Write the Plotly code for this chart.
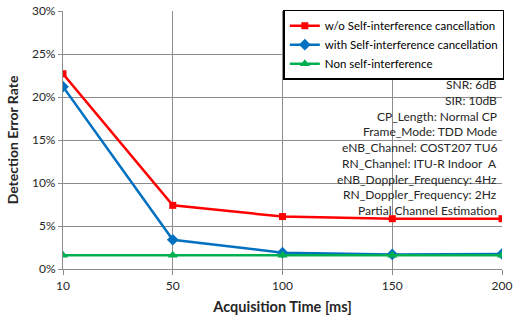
import plotly.graph_objects as go

categories = ["10", "50", "100", "150", "200"]
wo_sic = [0.227, 0.074, 0.061, 0.0585, 0.0585]
with_sic = [0.212, 0.034, 0.019, 0.017, 0.0175]
non_si = [0.016, 0.016, 0.016, 0.016, 0.016]
y_ticks = [0, 0.05, 0.10, 0.15, 0.20, 0.25, 0.30]
y_tick_labels = ["0%", "5%", "10%", "15%", "20%", "25%", "30%"]
params = [
    "SNR: 6dB",
    "SIR: 10dB",
    "CP_Length: Normal CP",
    "Frame_Mode: TDD Mode",
    "eNB_Channel: COST207 TU6",
    "RN_Channel: ITU-R Indoor  A",
    "eNB_Doppler_Frequency: 4Hz",
    "RN_Doppler_Frequency: 2Hz",
    "Partial Channel Estimation",
]

FONT = "Lato"
grid = "#8c8c8c"
txt = "#262626"

fig = go.Figure()
fig.add_trace(go.Scatter(x=categories, y=wo_sic, mode="lines+markers",
                         name="w/o Self-interference cancellation", legendgroup="a",
                         line=dict(color="#ff0000", width=2.5),
                         marker=dict(symbol="square", size=7, color="#ff0000")))
fig.add_trace(go.Scatter(x=categories, y=with_sic, mode="lines+markers",
                         name="with Self-interference cancellation", legendgroup="b",
                         line=dict(color="#0070c0", width=2.5),
                         marker=dict(symbol="diamond", size=9, color="#0070c0")))
fig.add_trace(go.Scatter(x=categories, y=non_si, mode="lines+markers",
                         name="Non self-interference", legendgroup="c",
                         line=dict(color="#00b050", width=2.5),
                         marker=dict(symbol="triangle-up", size=9, color="#00b050")))

top_px = 84.5
step_px = 15.75
plot_top, plot_h, plot_l, plot_w = 11, 258, 63, 440
for i, t in enumerate(params):
    ypix = top_px + i * step_px
    fig.add_annotation(text=t, xref="paper", yref="paper",
                       x=(500 - plot_l) / plot_w, y=1 - (ypix - plot_top) / plot_h,
                       xanchor="right", yanchor="middle", showarrow=False,
                       font=dict(family=FONT, size=12, color=txt))

fig.update_layout(
    width=513, height=323,
    margin=dict(l=63, r=10, t=11, b=54),
    paper_bgcolor="white", plot_bgcolor="white",
    font=dict(family=FONT, size=12, color=txt),
    showlegend=True,
    legend=dict(x=1.003, y=1.005, xanchor="right", yanchor="top",
                bgcolor="white", bordercolor="black", borderwidth=1.5,
                font=dict(family=FONT, size=11.5, color="#000000"),
                tracegroupgap=0, itemwidth=30),
    xaxis=dict(type="category", range=[0, 4], showgrid=True, gridcolor=grid,
               gridwidth=1.2, showline=True, linecolor=grid, linewidth=1.2,
               ticks="outside", ticklen=5, tickcolor=grid, zeroline=False,
               automargin=False,
               tickfont=dict(family=FONT, size=12, color=txt),
               title=dict(text="<b>Acquisition Time [ms]</b>", standoff=10,
                          font=dict(family=FONT, size=14.5, color=txt))),
    yaxis=dict(range=[0, 0.30], tickvals=y_ticks, ticktext=y_tick_labels,
               showgrid=True, gridcolor=grid, gridwidth=1.2, showline=True,
               linecolor=grid, linewidth=1.2, ticks="outside", ticklen=4,
               tickcolor=grid, zeroline=False, automargin=False,
               tickfont=dict(family=FONT, size=12, color=txt),
               title=dict(text="<b>Detection Error Rate</b>", standoff=10,
                          font=dict(family=FONT, size=14, color=txt))),
)

fig.write_html("out.html")
